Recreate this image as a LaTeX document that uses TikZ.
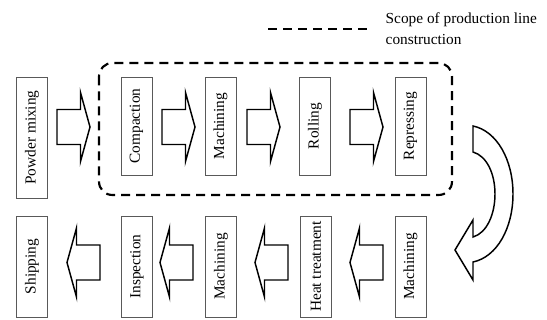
\documentclass[tikz,border=0pt]{standalone}
\usepackage{fontspec}
\setmainfont{Liberation Serif}
\tikzset{
  stage/.style={draw=black!65, line width=0.7pt, rotate=90, minimum height=23.25pt,
    inner sep=1pt, font=\fontsize{11.5}{13}\selectfont},
  scopeline/.style={line width=1.6pt, dash pattern=on 6.75pt off 4.5pt},
  blockarrow/.style={draw, line width=1.1pt, fill=white},
  flowarrow/.pic={\draw[blockarrow] (0,-17.5) -- (23.5,-17.5) -- (23.5,-34.5) -- (33,0)
    -- (23.5,34.5) -- (23.5,17.5) -- (0,17.5) -- cycle;}
}
\begin{document}
\begin{tikzpicture}[x=0.75pt,y=-0.75pt]
\useasboundingbox (0,0) rectangle (547,320);
% legend
\draw[scopeline] (268,29) -- (368,29);
\node[anchor=west, align=left, font=\fontsize{11.5}{15.75}\selectfont] (legend) at (381,29)
  {Scope of production line\\construction};
% production line scope
\draw[scopeline, rounded corners=10pt] (99,63) rectangle (452,195);
% upper row
\node[stage, minimum width=90.75pt] (mix) at (32,137.5) {Powder mixing};
\node[stage, minimum width=73.5pt] (compact) at (136.5,126) {Compaction};
\node[stage, minimum width=73.5pt] (machA) at (220.5,126) {Machining};
\node[stage, minimum width=73.5pt] (roll) at (315,126) {Rolling};
\node[stage, minimum width=73.5pt] (repress) at (410.5,126) {Repressing};
% lower row
\node[stage, minimum width=75.75pt] (machB) at (410.5,266.5) {Machining};
\node[stage, minimum width=75.75pt] (heat) at (316,266.5) {Heat treatment};
\node[stage, minimum width=75.75pt] (machC) at (221,266.5) {Machining};
\node[stage, minimum width=75.75pt] (inspect) at (137,266.5) {Inspection};
\node[stage, minimum width=75.75pt] (ship) at (32,266.5) {Shipping};
% block arrows
\foreach \x in {57,162,247,350} \pic at (\x,127) {flowarrow};
\foreach \x in {100,193,288,383} \pic[rotate=180] at (\x,262.5) {flowarrow};
% turn arrow
\draw[blockarrow] (473,126) .. controls (497,131) and (513,160) .. (513,194)
  .. controls (513,228) and (497,257) .. (473,262) -- (473,280) -- (455,250)
  -- (473,220) -- (473,237) .. controls (487,233) and (495,214) .. (495,194)
  .. controls (495,174) and (487,156) .. (473,152) -- cycle;
\end{tikzpicture}
\end{document}
